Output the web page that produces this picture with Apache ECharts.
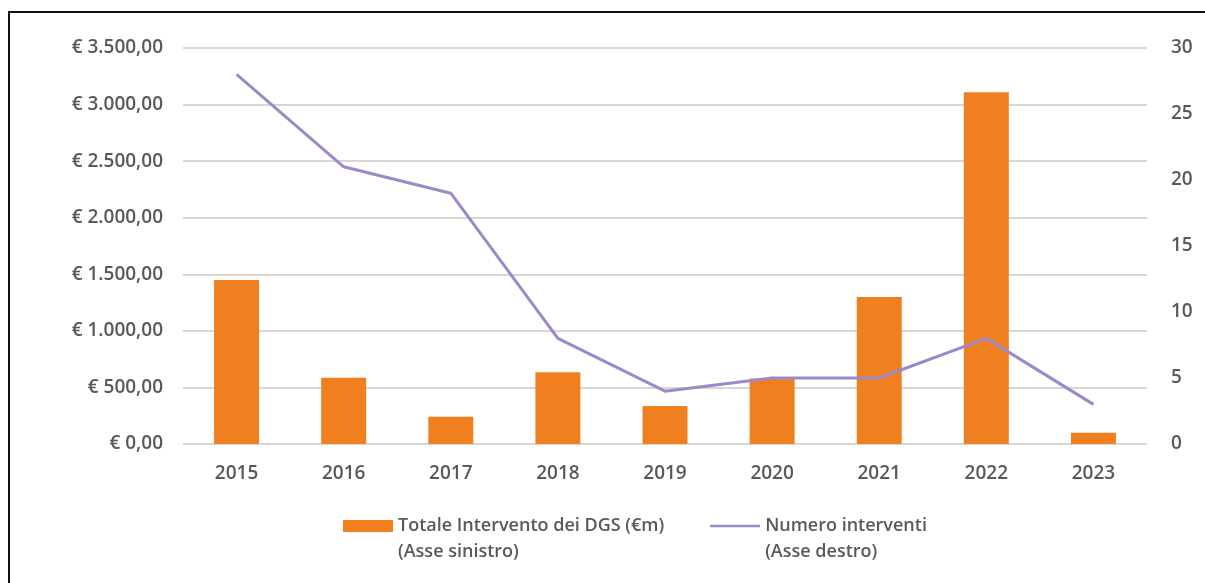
<!DOCTYPE html>
<html>
<head>
<meta charset="utf-8">
<script src="https://cdn.jsdelivr.net/npm/echarts@6/dist/echarts.min.js"></script>
<style>
html,body{margin:0;padding:0;background:#fff;overflow:hidden;}
#frame{position:absolute;left:8px;top:11px;width:1400px;height:800px;border:2px solid #111;box-sizing:border-box;}
#chart{position:absolute;left:0;top:0;width:1205px;height:583px;}
</style>
</head>
<body>
<div id="frame"></div>
<div id="chart"></div>
<script>
const categories = ['2015','2016','2017','2018','2019','2020','2021','2022','2023'];
const totaleIntervento = [1450, 585, 240, 635, 335, 580, 1300, 3110, 100];
const numeroInterventi = [28, 21, 19, 8, 4, 5, 5, 8, 3];
const barName = 'Totale Intervento dei DGS (€m)\n(Asse sinistro)';
const lineName = 'Numero interventi\n(Asse destro)';

function euro(v){
  const s = Math.round(v).toString().replace(/\B(?=(\d{3})+(?!\d))/g, '.');
  return '€ ' + s + ',00';
}

const chart = echarts.init(document.getElementById('chart'), null, {renderer:'canvas'});
const labelColor = '#595959';
const fontFamily = '"Open Sans", sans-serif';
chart.setOption({
  backgroundColor: 'transparent',
  animation: false,
  textStyle: {fontFamily: fontFamily},
  grid: {left: 183, right: 58, top: 48, bottom: 139, containLabel: false},
  legend: {
    left: 338,
    top: 482,
    itemGap: 46,
    itemWidth: 50,
    itemHeight: 12,
    formatter: function(name){ return '\n' + name; },
    textStyle: {color: labelColor, fontSize: 18, fontWeight: 600, fontFamily: fontFamily, lineHeight: 26},
    data: [
      {name: barName, icon: 'rect'},
      {name: lineName, icon: 'path://M0,0 L0.01,0 Z M0,12 L0.01,12 Z M0,4.75 L50,4.75 L50,7.25 L0,7.25 Z', itemStyle: {color: '#9D88C9'}}
    ]
  },
  xAxis: {
    type: 'category',
    data: categories,
    axisLine: {show: false},
    axisTick: {show: false},
    axisLabel: {color: labelColor, fontSize: 19, margin: 20, fontWeight: 600}
  },
  yAxis: [
    {
      type: 'value', min: 0, max: 3500, interval: 500,
      axisLine: {show: false}, axisTick: {show: false},
      axisLabel: {color: labelColor, fontSize: 19, fontWeight: 600, margin: 20, formatter: euro},
      splitLine: {lineStyle: {color: '#d9d6d4', width: 2}}
    },
    {
      type: 'value', min: 0, max: 30, interval: 5, position: 'right',
      axisLine: {show: false}, axisTick: {show: false},
      axisLabel: {color: labelColor, fontSize: 19, fontWeight: 600, margin: 24},
      splitLine: {show: false}
    }
  ],
  series: [
    {
      name: barName, type: 'bar', yAxisIndex: 0, data: totaleIntervento,
      barWidth: '42%', itemStyle: {color: '#F0801F'}
    },
    {
      name: lineName, type: 'line', yAxisIndex: 1, data: numeroInterventi,
      symbol: 'none', lineStyle: {color: '#9D88C9', width: 3}, itemStyle: {color: '#9D88C9'}
    }
  ]
});
</script>
</body>
</html>
